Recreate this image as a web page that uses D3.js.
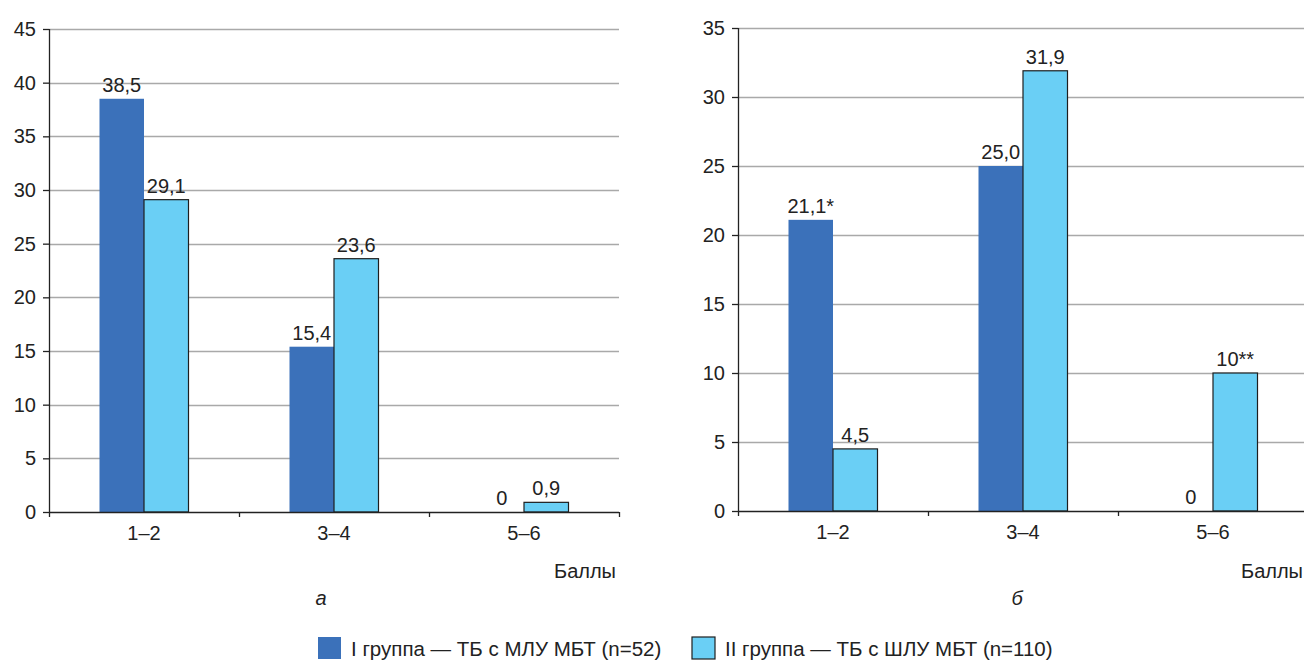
<!DOCTYPE html>
<html>
<head>
<meta charset="utf-8">
<script src="https://cdn.jsdelivr.net/npm/d3@7.9.0/dist/d3.min.js"></script>
<style>
  body { margin: 0; background: #fff; }
  svg text { font-family: "Liberation Sans", Arial, sans-serif; fill: #222; }
</style>
</head>
<body>
<div id="chart"></div>
<script>
const categories = ["1–2", "3–4", "5–6"];
const seriesNames = ["I группа — ТБ с МЛУ МБТ (n=52)", "II группа — ТБ с ШЛУ МБТ (n=110)"];
const seriesColors = ["#3b71ba", "#6acff5"];

// panel а
const valuesA1 = [38.5, 15.4, 0];
const valuesA2 = [29.1, 23.6, 0.9];
const labelsA1 = ["38,5", "15,4", "0"];
const labelsA2 = ["29,1", "23,6", "0,9"];
const ticksA = [0, 5, 10, 15, 20, 25, 30, 35, 40, 45];

// panel б
const valuesB1 = [21.1, 25.0, 0];
const valuesB2 = [4.5, 31.9, 10];
const labelsB1 = ["21,1*", "25,0", "0"];
const labelsB2 = ["4,5", "31,9", "10**"];
const ticksB = [0, 5, 10, 15, 20, 25, 30, 35];

const W = 1304, H = 661;
const FS = "20px";
const svg = d3.select("#chart").append("svg")
    .attr("width", W)
    .attr("height", H);

function drawPanel(opt) {
    const g = svg.append("g");
    const y = d3.scaleLinear().domain([0, opt.max]).range([opt.bottom, opt.top]);
    const x0 = d3.scaleBand().domain(categories).range([opt.left, opt.right]).padding(0);
    const groupW = 89;
    const x1 = d3.scaleBand().domain([0, 1])
        .range([(x0.step() - groupW) / 2, (x0.step() + groupW) / 2]);

    // gridlines
    g.selectAll("line.grid")
        .data(opt.ticks.filter(t => t > 0))
        .enter().append("line")
        .attr("x1", opt.left).attr("x2", opt.gridEnd)
        .attr("y1", d => Math.round(y(d)) + 0.5).attr("y2", d => Math.round(y(d)) + 0.5)
        .style("stroke", "#a9a9a9")
        .style("stroke-width", 1.3);

    const rows = categories.map((c, i) => ({
        cat: c,
        vals: [opt.v1[i], opt.v2[i]],
        labs: [opt.l1[i], opt.l2[i]]
    }));

    const bars = rows.flatMap(r => r.vals.map((v, s) => ({ cat: r.cat, s, v, lab: r.labs[s] })));

    g.selectAll("rect.bar")
        .data(bars)
        .enter().append("rect")
        .attr("x", d => x0(d.cat) + x1(d.s))
        .attr("y", d => y(d.v))
        .attr("width", x1.bandwidth())
        .attr("height", d => y(0) - y(d.v))
        .style("fill", d => seriesColors[d.s])
        .style("stroke", d => d.s === 1 ? "#1e1e1e" : "none")
        .style("stroke-width", 1.2);

    g.selectAll("text.val")
        .data(bars)
        .enter().append("text")
        .attr("x", d => x0(d.cat) + x1(d.s) + x1.bandwidth() / 2)
        .attr("y", d => y(d.v) - 7)
        .attr("text-anchor", "middle")
        .style("font-size", FS)
        .text(d => d.lab);

    // y axis
    const yAxis = g.append("g")
        .attr("transform", `translate(${opt.left},0)`)
        .call(d3.axisLeft(y).tickValues(opt.ticks).tickSize(6).tickPadding(7).tickFormat(d3.format("d")));
    yAxis.select(".domain").attr("d", `M0.5,${opt.top}V${opt.bottom + 5}`).style("stroke", "#222").style("stroke-width", 1.3);
    yAxis.selectAll(".tick line").style("stroke", "#222").style("stroke-width", 1.3);
    yAxis.selectAll(".tick text").style("font-size", FS).style("font-family", "Liberation Sans, Arial, sans-serif").attr("fill", "#222");

    // x axis
    const xAxis = g.append("g")
        .attr("transform", `translate(0,${opt.bottom})`)
        .call(d3.axisBottom(x0).tickSize(0).tickPadding(14));
    xAxis.select(".domain").attr("d", `M${opt.left},0.5H${opt.gridEnd}`).style("stroke", "#222").style("stroke-width", 1.3);
    xAxis.selectAll(".tick text").style("font-size", FS).style("font-family", "Liberation Sans, Arial, sans-serif").attr("fill", "#222");

    const bounds = categories.map(c => x0(c) + x0.step()).filter(v => v <= W);
    g.selectAll("line.xt")
        .data(bounds)
        .enter().append("line")
        .attr("x1", d => Math.round(d) + 0.5).attr("x2", d => Math.round(d) + 0.5)
        .attr("y1", opt.bottom).attr("y2", opt.bottom + 5)
        .style("stroke", "#222")
        .style("stroke-width", 1.3);

    g.append("text")
        .attr("x", opt.unitX)
        .attr("y", 578)
        .attr("text-anchor", "end")
        .style("font-size", FS)
        .text("Баллы");

    g.append("text")
        .attr("x", opt.letterX)
        .attr("y", 605)
        .attr("text-anchor", "middle")
        .style("font-size", FS)
        .style("font-style", "italic")
        .text(opt.letter);
}

drawPanel({
    left: 49, right: 619, gridEnd: 619, top: 29, bottom: 512, max: 45,
    ticks: ticksA, v1: valuesA1, v2: valuesA2, l1: labelsA1, l2: labelsA2,
    unitX: 616, letterX: 321, letter: "а"
});

drawPanel({
    left: 738, right: 1308, gridEnd: 1304, top: 28, bottom: 511, max: 35,
    ticks: ticksB, v1: valuesB1, v2: valuesB2, l1: labelsB1, l2: labelsB2,
    unitX: 1303, letterX: 1017, letter: "б"
});

// legend
const legendX = [318, 692];
const legend = svg.append("g");
seriesNames.forEach((name, i) => {
    legend.append("rect")
        .attr("x", legendX[i])
        .attr("y", 637)
        .attr("width", 23)
        .attr("height", 22)
        .style("fill", seriesColors[i])
        .style("stroke", i === 1 ? "#1e1e1e" : "none")
        .style("stroke-width", 1.2);
    legend.append("text")
        .attr("x", legendX[i] + 33)
        .attr("y", 656)
        .style("font-size", "20.5px")
        .text(name);
});
</script>
</body>
</html>
